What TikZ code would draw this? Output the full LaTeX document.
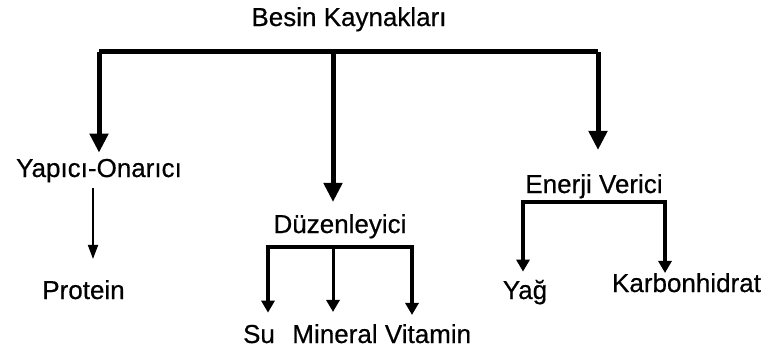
\documentclass[tikz,border=0pt]{standalone}
\usepackage{fontspec}
\setmainfont{Liberation Sans}[FakeBold=0.5]
\usetikzlibrary{arrows.meta}
\tikzset{
  lbl/.style={anchor=base, inner sep=0pt, font=\fontsize{26}{30}\selectfont},
  trunk/.style={line width=5pt},
  bigarr/.style={trunk, -{Triangle[length=19pt,width=18pt]}},
  branch/.style={line width=4pt},
  medarr/.style={branch, -{Triangle[length=12pt,width=13pt]}},
  thinarr/.style={line width=1.8pt, -{Triangle[length=14pt,width=10pt]}},
}
\begin{document}
\begin{tikzpicture}[x=1pt,y=-1pt]
  \useasboundingbox (0,0) rectangle (768,354);

  % labels
  \node[lbl] (root) at (349,26)    {Besin Kaynakları};
  \node[lbl] (yap)  at (99,177)    {Yapıcı-Onarıcı};
  \node[lbl] (duz)  at (340,233)   {Düzenleyici};
  \node[lbl] (ene)  at (594,193)   {Enerji Verici};
  \node[lbl] (pro)  at (83.5,299)  {Protein};
  \node[lbl] (su)   at (259,343)   {Su};
  \node[lbl] (min)  at (335,343)   {Mineral};
  \node[lbl] (vit)  at (428,343)   {Vitamin};
  \node[lbl] (yag)  at (525,299)   {Yağ};
  \node[lbl] (kar)  at (686.5,292) {Karbonhidrat};

  % branch points
  \coordinate (barL) at (99,51.5);
  \coordinate (barM) at (333,51.5);
  \coordinate (barR) at (598,51.5);
  \coordinate (pstem) at (93,0);
  \coordinate (dzL) at (268,247);
  \coordinate (dzM) at (333,247);
  \coordinate (dzR) at (412,247);
  \coordinate (enL) at (523,202);
  \coordinate (enR) at (665,202);

  % main trunk
  \draw[trunk] (barL) -- (barR);
  \draw[bigarr, shorten >=6pt]  (barL) -- (barL |- yap.north);
  \draw[bigarr, shorten >=12pt] (barM) -- (barM |- duz.north);
  \draw[bigarr, shorten >=24pt] (barR) -- (barR |- ene.north);

  % Yapıcı-Onarıcı
  \draw[thinarr, shorten <=5.5pt, shorten >=21pt]
    (yap.south -| pstem) -- (pro.north -| pstem);

  % Düzenleyici
  \draw[branch, line cap=rect] (dzL) -- (dzR);
  \draw[medarr, shorten >=12pt] (dzL) -- (dzL |- su.north);
  \draw[medarr, line width=3pt, shorten >=12pt] (dzM) -- (dzM |- min.north);
  \draw[medarr, shorten >=9pt] (dzR) -- (dzR |- vit.north);

  % Enerji Verici
  \draw[branch, line width=3.5pt, line cap=rect] (enL) -- (enR);
  \draw[medarr, line width=3.5pt, shorten >=8pt] (enL) -- (enL |- yag.north);
  \draw[medarr, line width=3.5pt] (enR) -- (enR |- kar.north);
\end{tikzpicture}
\end{document}
